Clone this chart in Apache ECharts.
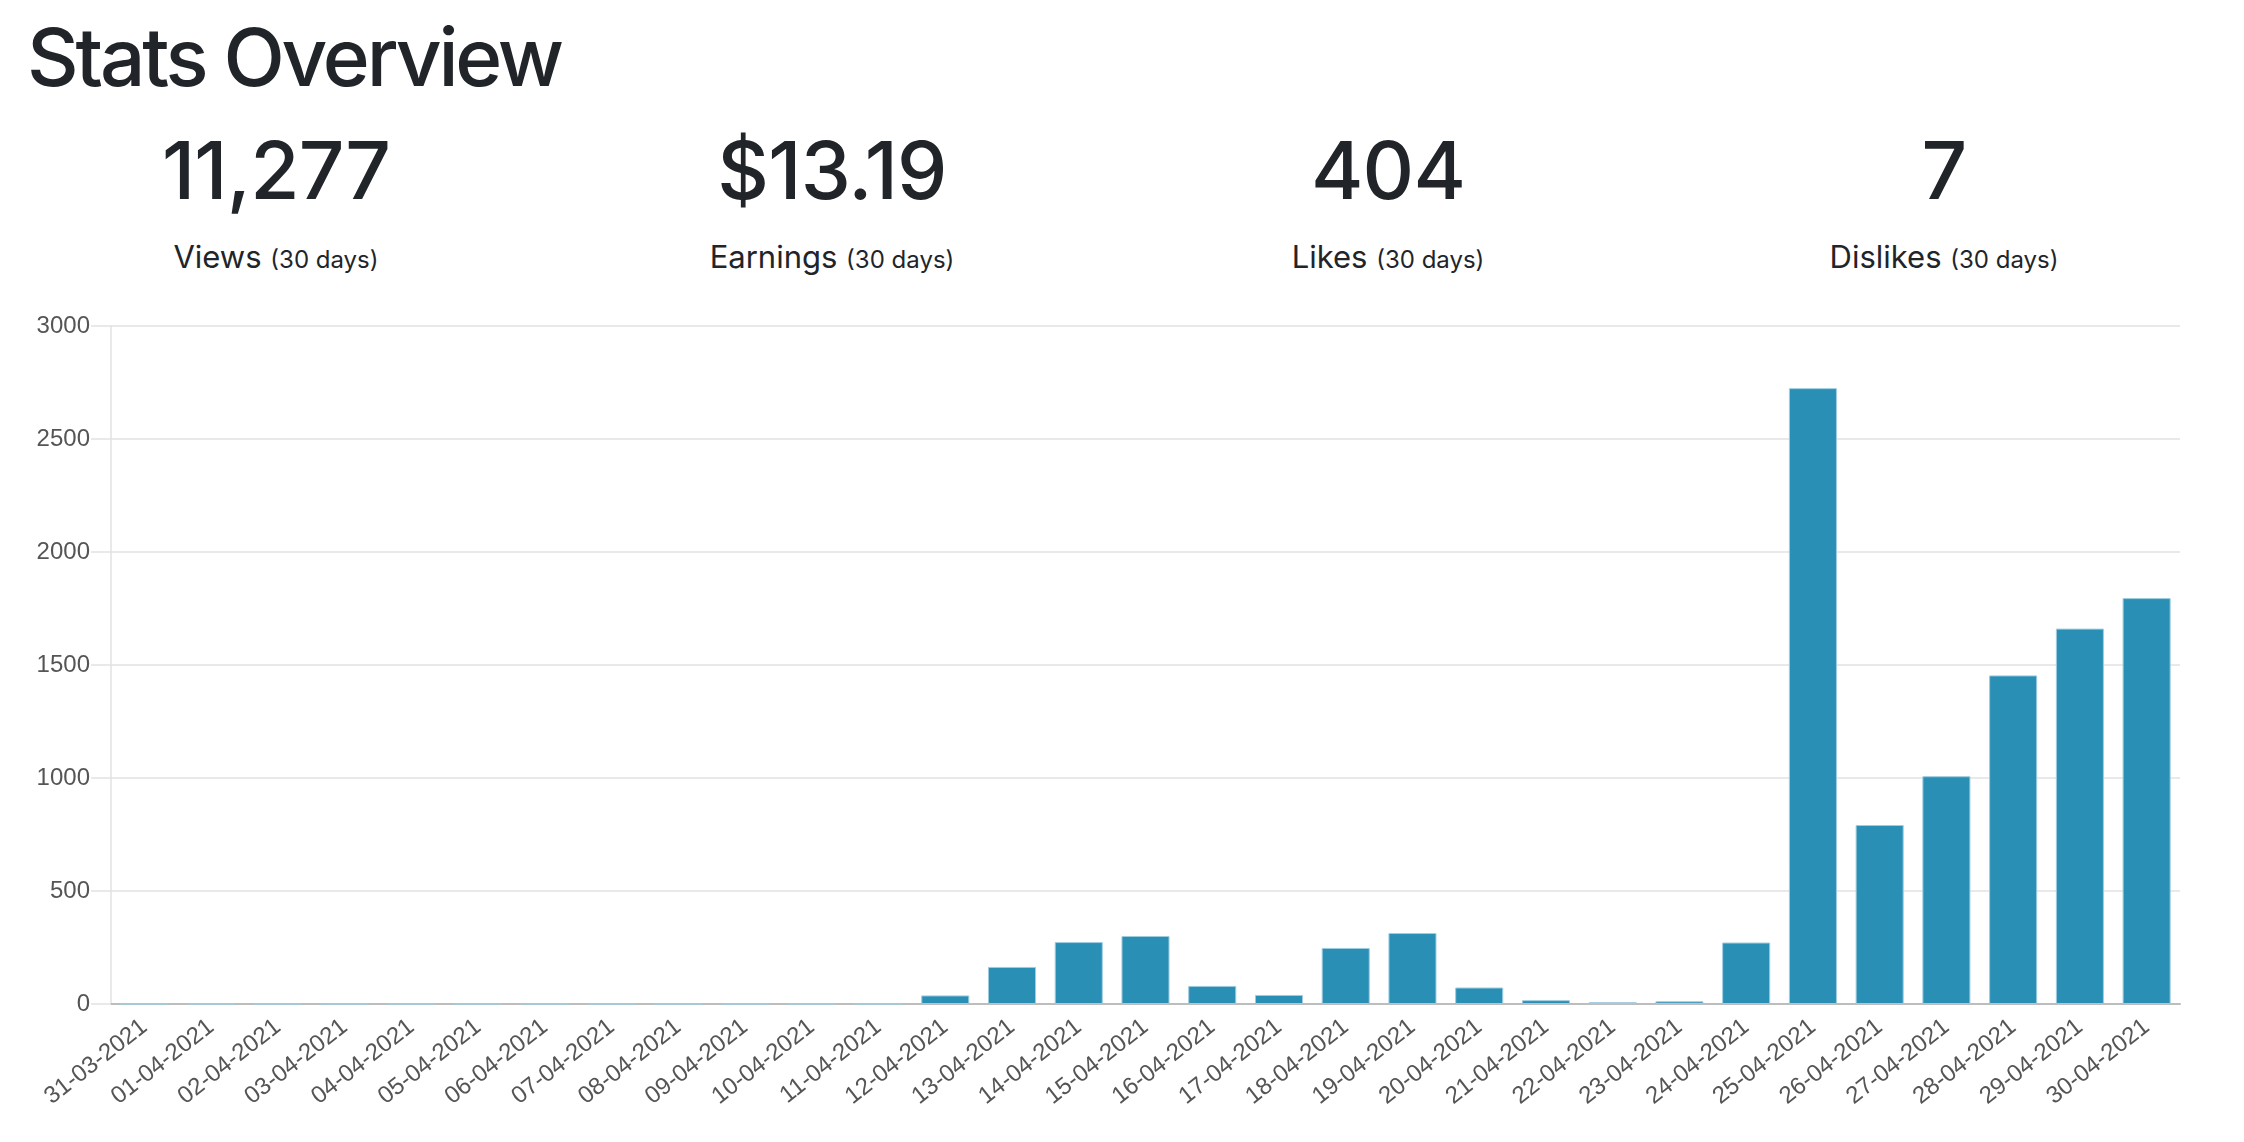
<!DOCTYPE html>
<html>
<head>
<meta charset="utf-8">
<title>Stats Overview</title>
<script src="https://cdn.jsdelivr.net/npm/echarts@6/dist/echarts.min.js"></script>
<style>
    html, body { margin: 0; padding: 0; background: #fff; }
    body { width: 2244px; height: 1142px; position: relative; overflow: hidden; color: #212529; font-family: "Inter", "Liberation Sans", sans-serif; }
    h1 { position: absolute; left: 27px; top: 17px; margin: 0; font-size: 80px; line-height: 80px; font-weight: 500; letter-spacing: -0.04em; }
    .stat { position: absolute; width: 556px; text-align: center; }
    .stat .num { position: absolute; left: 0; right: 0; top: 130px; font-size: 80px; line-height: 80px; font-weight: 500; letter-spacing: -0.01em; }
    .stat .lbl { position: absolute; left: 0; right: 0; top: 242px; font-size: 31px; line-height: 30px; }
    .stat .lbl small { font-size: 24px; }
    #main { position: absolute; left: 0; top: 300px; width: 2244px; height: 842px; }
</style>
</head>
<body>
<h1>Stats Overview</h1>
<div id="stats"></div>
<div id="main"></div>
<script>
    // summary boxes
    var statValues = ["11,277", "$13.19", "404", "7"];
    var statLabels = ["Views", "Earnings", "Likes", "Dislikes"];
    var statPeriod = "(30 days)";

    // daily views
    var days = [
        "31-03-2021", "01-04-2021", "02-04-2021", "03-04-2021", "04-04-2021", "05-04-2021",
        "06-04-2021", "07-04-2021", "08-04-2021", "09-04-2021", "10-04-2021", "11-04-2021",
        "12-04-2021", "13-04-2021", "14-04-2021", "15-04-2021", "16-04-2021", "17-04-2021",
        "18-04-2021", "19-04-2021", "20-04-2021", "21-04-2021", "22-04-2021", "23-04-2021",
        "24-04-2021", "25-04-2021", "26-04-2021", "27-04-2021", "28-04-2021", "29-04-2021",
        "30-04-2021"
    ];
    var views = [
        0, 0, 0, 0, 0, 0,
        0, 0, 0, 0, 0, 0,
        38, 164, 274, 301, 80, 40,
        248, 314, 73, 17, 8, 12,
        272, 2725, 792, 1008, 1454, 1661,
        1796
    ];

    var $stats = document.getElementById("stats");
    statValues.forEach(function (v, i) {
        var box = document.createElement("div");
        box.className = "stat";
        box.style.left = (-2 + i * 556) + "px";
        box.innerHTML = '<div class="num">' + v + '</div>' +
            '<div class="lbl">' + statLabels[i] + ' <small>' + statPeriod + '</small></div>';
        $stats.appendChild(box);
    });

    var mainChart = echarts.init(document.getElementById("main"));
    var option = {
        animation: false,
        textStyle: { fontFamily: "Liberation Sans, Arial, sans-serif" },
        grid: { left: 111, right: 64, top: 26, bottom: 138 },
        xAxis: {
            type: "category",
            data: days,
            boundaryGap: true,
            axisLine: { show: true, lineStyle: { color: "#bdbdbd", width: 2 } },
            axisTick: { show: false },
            splitLine: { show: false },
            axisLabel: { interval: 0, rotate: 38, margin: 20, color: "#555", fontSize: 24 }
        },
        yAxis: {
            type: "value",
            min: 0,
            max: 3000,
            interval: 500,
            axisLine: { show: true, lineStyle: { color: "#e2e2e2", width: 1.5 } },
            axisTick: { show: true, length: 20, lineStyle: { color: "#e2e2e2", width: 1.5 } },
            splitLine: { show: true, lineStyle: { color: "#e2e2e2", width: 1.5 } },
            axisLabel: {
                margin: 21,
                color: "#555",
                fontSize: 24,
                formatter: function (val) { return String(val); }
            }
        },
        series: [
            {
                name: "Views",
                type: "bar",
                data: views,
                barWidth: "72%",
                itemStyle: { color: "#2a8fb5", borderColor: "#9fcde0", borderWidth: 1 }
            }
        ]
    };
    mainChart.setOption(option);
</script>
</body>
</html>
